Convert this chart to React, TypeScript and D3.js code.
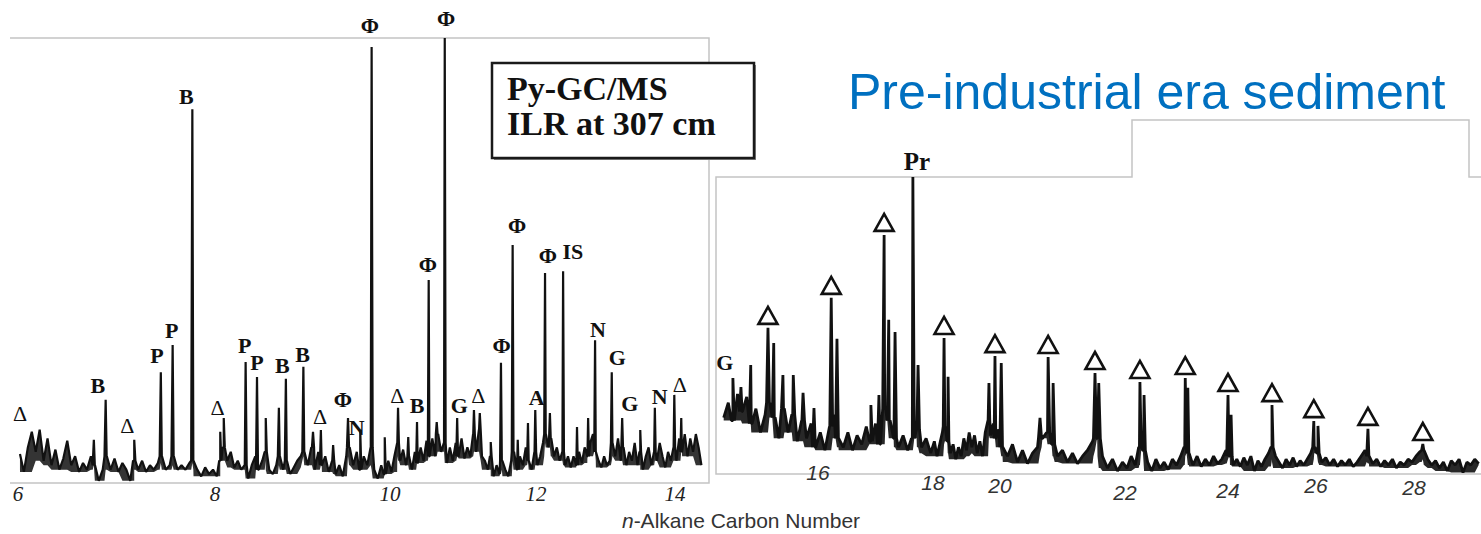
import React from 'react'
import * as d3 from 'd3'

// ---- axis ticks (carbon number) ----
const LEFT_TICKS = [6, 8, 10, 12, 14]
const RIGHT_TICKS = [16, 18, 20, 22, 24, 26, 28]

// ---- left chromatogram (Py-GC/MS), intensity in % of tallest peak ----
const LEFT_BASE_START = 6.02
const LEFT_BASE_STEP = 0.04
const LEFT_BASELINE = [
  6.5, 2.5, 8, 11.5, 7, 12, 5, 10, 4, 7.5, 3, 5.5, 9.5, 4, 6, 2.5, 4.5, 3, 6, 4,
  0.5, 3, 6, 3, 5.5, 2.5, 4.5, 3, 0.5, 5, 3, 5, 2.5, 4, 3, 4.5, 6, 3, 4, 6,
  3, 4, 3, 4.5, 5, 3, 1.5, 3.5, 2, 3, 1.5, 5, 8, 5, 7, 3.5, 5, 3, 4, 1,
  4, 6, 3, 5, 7, 3, 2, 4, 6, 3, 5, 2, 3.5, 5, 6, 7, 4, 8, 3, 7,
  4, 6, 2.5, 5, 2, 4, 1.5, 6, 8, 4, 7, 3, 6, 4, 8, 3, 1, 4, 2, 5,
  2.5, 6, 9, 5, 7.5, 4, 6, 3, 7, 4.5, 8, 5, 9.5, 6, 10, 6, 11, 7, 9, 4.5,
  8, 5, 9, 6, 10, 5.5, 8, 6, 11, 7, 12, 6, 5, 3, 6, 1.5, 4, 2, 5, 3,
  1.5, 5, 7, 3, 6, 4, 8, 5, 3, 7, 4, 6, 9, 11, 8, 10, 6, 8, 5, 7,
  4, 6, 3.5, 6, 4, 7, 4.5, 8, 6, 9, 11, 7, 5, 3.5, 6, 4, 5, 9, 6, 10,
  5, 8, 4, 7, 5, 9, 4, 7, 3, 6, 8, 4, 7, 5, 9, 6, 3.5, 7, 5, 8,
  5, 10, 7, 11, 6, 10, 7, 11, 8, 4,
]
const LEFT_PEAKS: [number, number][] = [
  [6.77, 9.7], [6.89, 18.7], [7.18, 9.7], [7.45, 24.9], [7.57, 31.0], [7.77, 84.0],
  [8.06, 11.5], [8.1, 14.6], [8.35, 27.2], [8.48, 23.8], [8.58, 14.6], [8.73, 16.9],
  [8.81, 23.4], [9.01, 26.1], [9.12, 11.5], [9.21, 11.9], [9.35, 8.5], [9.52, 14.6],
  [9.66, 11.9], [9.79, 98.0], [9.94, 10.3], [10.11, 16.9], [10.25, 10.3], [10.37, 13.7],
  [10.53, 45.6], [10.64, 13.7], [10.75, 100], [10.92, 14.6], [11.15, 16.4], [11.23, 15.7],
  [11.38, 9.2], [11.52, 27.0], [11.68, 53.5], [11.75, 9.7], [11.89, 13.5], [11.99, 16.4],
  [12.13, 47.2], [12.2, 15.7], [12.39, 47.6], [12.59, 12.6], [12.75, 14.6], [12.85, 32.1],
  [13.09, 24.9], [13.24, 14.6], [13.5, 11.9], [13.71, 16.9], [13.99, 19.8], [14.09, 14.6],
]
const LEFT_LABELS: [string, number, number][] = [
  ['Δ', 6.02, 13.9], ['B', 6.81, 20.2], ['Δ', 7.11, 11.2], ['P', 7.41, 27.0], ['P', 7.56, 32.6],
  ['B', 7.71, 85.2], ['Δ', 8.03, 15.3], ['P', 8.34, 29.2], ['P', 8.48, 25.4], ['B', 8.77, 24.7],
  ['B', 9.0, 27.2], ['Δ', 9.2, 13.3], ['Φ', 9.46, 17.1], ['N', 9.62, 10.8], ['Φ', 9.77, 101.1],
  ['Δ', 10.1, 18.0], ['B', 10.37, 15.7], ['Φ', 10.52, 47.4], ['Φ', 10.77, 102.7], ['G', 10.95, 15.7],
  ['Δ', 11.21, 18.0], ['Φ', 11.53, 29.2], ['Φ', 11.74, 56.2], ['A', 12.01, 17.5], ['Φ', 12.17, 49.4],
  ['IS', 12.53, 50.3], ['N', 12.89, 32.8], ['G', 13.17, 26.5], ['G', 13.35, 16.2], ['N', 13.78, 17.8],
  ['Δ', 14.07, 20.4],
]

// ---- right chromatogram (pre-industrial sediment) ----
const RIGHT_BASE_START = 14.36
const RIGHT_BASE_STEP = 0.08
const RIGHT_BASELINE = [
  19, 24, 18, 27, 21, 26, 17, 22, 14, 20, 24, 19, 12, 22, 14, 20, 11, 18, 12, 17,
  9, 14, 8, 16, 20, 12, 9, 14, 8, 13, 10, 16, 11, 17, 10, 22, 18, 12, 9, 13,
  8, 12, 15, 9, 12, 7, 11, 6, 10, 14, 16, 11, 7, 10, 5, 9, 6, 12, 8, 14,
  9, 13, 7, 11, 6, 14, 18, 13, 17, 12, 15, 9, 6, 10, 4, 8, 3.5, 7, 9, 12,
  14, 10, 6, 8, 4, 7, 3.5, 6, 8, 11, 12, 6, 2, 5, 1, 4, 2, 6, 3, 9,
  8, 4, 1, 5, 2, 4, 1.5, 5, 3, 6, 9, 7, 3, 6, 2.5, 5, 3, 6, 3.5, 5,
  8, 6, 3, 5, 2.5, 5.5, 3, 6, 1, 4.5, 2.5, 5, 7, 9, 6, 4, 2, 5, 3, 5.5,
  2.5, 4.5, 3, 5, 7, 9, 7, 4, 5.5, 3, 5, 2.5, 4.5, 3, 5, 2.5, 4, 6, 8, 6,
  3.5, 5, 2.5, 4.5, 3, 5, 2, 4, 3, 5, 4, 6, 7.5, 8, 5, 3, 4.5, 2, 4, 1,
  4.5, 3, 5, 0.5, 4, 3, 5, 3.5,
]
// n-alkane peaks (marked with triangles)
const RIGHT_ALKANES: [number, number][] = [
  [15.13, 49.2], [16.23, 59.3], [17.15, 80.5], [18.33, 45.8], [19.85, 39.7], [20.77, 39.4],
  [21.52, 34.0], [22.29, 31.0], [23.17, 32.3], [24.0, 26.6], [25.0, 23.2], [25.95, 17.8],
  [27.06, 15.2], [28.18, 10.1],
]
const RIGHT_PEAKS: [number, number][] = [
  [14.52, 32.3], [14.66, 29.3], [14.83, 36.7], [15.23, 44.1], [15.39, 33.3], [15.57, 33.3],
  [15.74, 27.3], [15.93, 22.2], [16.33, 45.5], [16.92, 23.2], [17.06, 26.6], [17.23, 51.9],
  [17.34, 47.8], [17.65, 100], [17.74, 36.7], [18.45, 32.7], [19.67, 30.6], [20.02, 37.4],
  [20.64, 18.9], [20.85, 30.6], [21.58, 30.6], [22.37, 26.6], [23.22, 29.0], [24.07, 19.9],
  [26.04, 16.2],
]
const RIGHT_LABELS: [string, number, number][] = [['G', 14.38, 35.0], ['Pr', 17.72, 102.4]]

// ---- layout ----
const W = 1481
const H = 534
const LEFT_RANGE = [18, 215, 390, 536, 675]
const RIGHT_RANGE = [818, 933, 1000, 1125, 1228, 1316, 1414]
const RIGHT_TICK_BASELINES = [480, 490, 493, 500, 498, 493, 495]
const FRAME = '#c4c4c4'
const INK = '#111'

const xL = d3.scaleLinear().domain(LEFT_TICKS).range(LEFT_RANGE)
const yL = d3.scaleLinear().domain([0, 100]).range([483, 38])
const xR = d3.scaleLinear().domain(RIGHT_TICKS).range(RIGHT_RANGE)
const yR = d3.scaleLinear().domain([0, 100]).range([474, 177])

type Pt = [number, number, number] // carbon, value, local floor

function buildTrace(start: number, step: number, base: number[], peaks: [number, number][], eps: number, win: number) {
  const pts: [number, number][] = base.map((v, i) => [start + i * step, v])
  peaks.forEach(([c, v]) => {
    const i = Math.max(0, Math.min(base.length - 1, Math.round((c - start) / step)))
    const b = Math.min(base[i], v)
    pts.push([c - eps, b], [c, v], [c + eps, b])
  })
  pts.sort((a, b) => a[0] - b[0])
  // local floor: lowest neighbouring value, so the noise band gets filled in
  return pts.map((p, i): Pt => {
    const around = pts.slice(Math.max(0, i - win), i + win + 1).map(q => q[1])
    return [p[0], p[1], d3.min(around) as number]
  })
}

export default function App() {
  const leftTrace = buildTrace(LEFT_BASE_START, LEFT_BASE_STEP, LEFT_BASELINE, LEFT_PEAKS, 0.012, 2)
  const rightTrace = buildTrace(RIGHT_BASE_START, RIGHT_BASE_STEP, RIGHT_BASELINE, [...RIGHT_ALKANES, ...RIGHT_PEAKS], 0.025, 3)

  const lineL = d3.line<Pt>().x(d => xL(d[0])).y(d => yL(d[1]))
  const lineR = d3.line<Pt>().x(d => xR(d[0])).y(d => yR(d[1]))
  const bandL = d3.area<Pt>().x(d => xL(d[0])).y0(d => yL(d[2])).y1(d => yL(d[1]))
  const bandR = d3.area<Pt>().x(d => xR(d[0])).y0(d => yR(d[2])).y1(d => yR(d[1]))

  const serif = '"Liberation Serif", "DejaVu Serif", serif'
  const sans = '"Liberation Sans", Arial, sans-serif'

  return (
    <svg width={W} height={H} style={{ position: 'absolute', left: 0, top: 0, background: '#fff' }}>
      {/* left panel frame */}
      <path d={`M10,${yL(100)}H${709}V${yL(0)}H10`} fill="none" stroke={FRAME} strokeWidth={1.5} />
      {/* right panel frame */}
      <path d={`M${W},177H1469V120H1132V177H716V${yR(0)}H${W}`} fill="none" stroke={FRAME} strokeWidth={1.5} />

      {/* traces */}
      <path d={bandL(leftTrace) || ''} fill={INK} fillOpacity={0.85} stroke="none" />
      <path d={bandR(rightTrace) || ''} fill={INK} fillOpacity={0.9} stroke="none" />
      <path d={lineL(leftTrace) || ''} fill="none" stroke={INK} strokeWidth={2.2} strokeLinejoin="bevel" />
      <path d={lineR(rightTrace) || ''} fill="none" stroke={INK} strokeWidth={2.8} strokeLinejoin="bevel" />

      {/* left tick labels */}
      {LEFT_TICKS.map(t => (
        <text key={t} x={xL(t)} y={501} textAnchor="middle" fontFamily={serif} fontStyle="italic"
          fontSize={21} fill="#222">{t}</text>
      ))}
      {/* right tick labels */}
      {RIGHT_TICKS.map((t, i) => (
        <text key={t} x={xR(t)} y={RIGHT_TICK_BASELINES[i]} textAnchor="middle" fontFamily={sans}
          fontStyle="italic" fontSize={21} fill="#333">{t}</text>
      ))}

      {/* left peak labels */}
      {LEFT_LABELS.map(([s, c, v], i) => (
        <text key={i} x={xL(c)} y={yL(v)} textAnchor="middle" fontFamily={serif}
          fontWeight={s === 'Δ' ? 400 : 700} fontSize={22} fill={INK}>{s}</text>
      ))}

      {/* right labels */}
      {RIGHT_LABELS.map(([s, c, v], i) => (
        <text key={i} x={xR(c)} y={yR(v)} textAnchor="middle" fontFamily={serif}
          fontWeight={700} fontSize={s === 'Pr' ? 25 : 22} fill={INK}>{s}</text>
      ))}
      {/* n-alkane triangles */}
      {RIGHT_ALKANES.map(([c, v], i) => {
        const x = xR(c)
        const b = yR(v) - 4
        return <path key={i} d={`M${x - 9.5},${b}L${x + 9.5},${b}L${x},${b - 17}Z`}
          fill="#fff" stroke={INK} strokeWidth={2.6} />
      })}

      {/* sample box */}
      <rect x={494} y={65} width={262} height={95} fill="#888" />
      <rect x={492} y={63} width={262} height={95} fill="#fff" stroke="#1a1a1a" strokeWidth={2.5} />
      <text x={507} y={100} fontFamily={serif} fontWeight={700} fontSize={34} fill={INK}>Py-GC/MS</text>
      <text x={507} y={135} fontFamily={serif} fontWeight={700} fontSize={34} fill={INK}>ILR at 307 cm</text>

      {/* title */}
      <text x={848} y={109} fontFamily={sans} fontSize={50} fill="#0070c0">Pre-industrial era sediment</text>

      {/* x axis title */}
      <text x={741} y={528} textAnchor="middle" fontFamily={sans} fontSize={21} fill="#333">
        <tspan fontStyle="italic">n</tspan>-Alkane Carbon Number
      </text>
    </svg>
  )
}
